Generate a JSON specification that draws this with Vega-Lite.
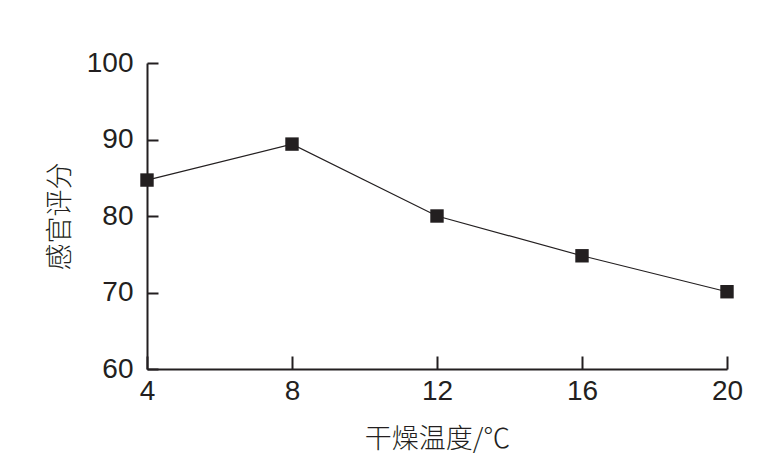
{
  "$schema": "https://vega.github.io/schema/vega-lite/v6.json",
  "autosize": "none",
  "padding": {"left": 147, "top": 63, "right": 48, "bottom": 89},
  "width": 580,
  "height": 306,
  "background": "white",
  "config": {
    "view": {"stroke": null},
    "axis": {
      "grid": false,
      "domainColor": "#231f20",
      "domainWidth": 2,
      "tickColor": "#231f20",
      "tickWidth": 2,
      "labelColor": "#231f20",
      "labelFont": "Liberation Sans",
      "labelFontSize": 28,
      "titleFont": "Noto Sans CJK SC",
      "titleFontWeight": 300,
      "titleFontSize": 27,
      "titleColor": "#231f20"
    }
  },
  "data": {
    "values": [
      {"t": 4, "score": 84.7},
      {"t": 8, "score": 89.4},
      {"t": 12, "score": 80.0},
      {"t": 16, "score": 74.8},
      {"t": 20, "score": 70.1}
    ]
  },
  "encoding": {
    "x": {
      "field": "t", "type": "quantitative",
      "scale": {"domain": [4, 20], "nice": false, "zero": false},
      "axis": {"values": [4, 8, 12, 16, 20], "tickSize": -13, "labelPadding": 21, "title": "干燥温度/℃", "titlePadding": 21, "labelFlush": false}
    },
    "y": {
      "field": "score", "type": "quantitative",
      "scale": {"domain": [60, 100], "nice": false, "zero": false},
      "axis": {"values": [60, 70, 80, 90, 100], "tickSize": -11, "labelPadding": 25, "title": "感官评分", "titlePadding": 12, "labelFlush": false}
    }
  },
  "layer": [
    {"mark": {"type": "line", "color": "#231f20", "strokeWidth": 1.2}},
    {"mark": {"type": "square", "color": "#231f20", "opacity": 1, "filled": true, "size": 180}}
  ]
}
